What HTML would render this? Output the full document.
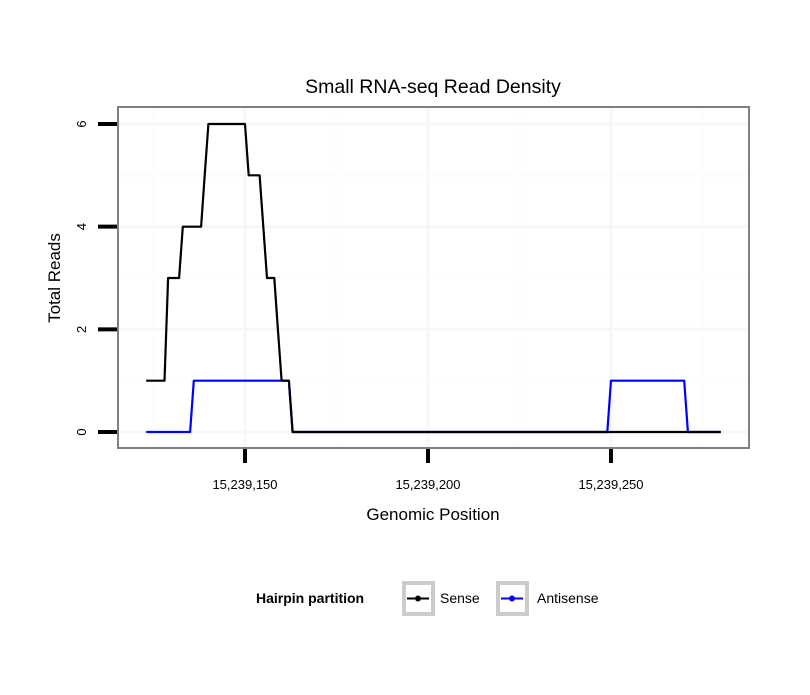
<!DOCTYPE html>
<html><head><meta charset="utf-8"><style>
body{margin:0;background:#fff;font-family:"Liberation Sans",sans-serif}
</style></head><body>
<svg id="chart" width="810" height="690" font-family="Liberation Sans, sans-serif">
<rect width="810" height="690" fill="#fff"/>
<text x="433" y="93" font-size="19.5" text-anchor="middle">Small RNA-seq Read Density</text>
<g id="grid"></g>
<g id="series"></g>
<rect x="118" y="107" width="631" height="341" fill="none" stroke="#808080" stroke-width="2"/>
<g id="axes"></g>
<text x="433" y="520" font-size="17" text-anchor="middle">Genomic Position</text>
<text transform="translate(60,278) rotate(-90)" font-size="17" text-anchor="middle">Total Reads</text>
<g>
<text x="256" y="603" font-size="14" font-weight="bold">Hairpin partition</text>
<g>
<rect x="404" y="583" width="29" height="31" fill="#fff" stroke="#cccccc" stroke-width="4"/>
<line x1="407" y1="598.5" x2="429" y2="598.5" stroke="#000" stroke-width="2"/>
<circle cx="418" cy="598.5" r="3" fill="#000"/>
<text x="440" y="603" font-size="14">Sense</text></g>
<g>
<rect x="498" y="583" width="29" height="31" fill="#fff" stroke="#cccccc" stroke-width="4"/>
<line x1="501" y1="598.5" x2="523" y2="598.5" stroke="#0000ff" stroke-width="2"/>
<circle cx="512" cy="598.5" r="3" fill="#0000ff"/>
<text x="537" y="603" font-size="14">Antisense</text></g>
</g>
</svg>
<script>
const senseX=[15239123,15239128,15239129,15239132,15239133,15239138,15239139,15239140,15239150,15239151,15239154,15239155,15239156,15239158,15239159,15239160,15239162,15239163,15239280];
const senseY=[1,1,3,3,4,4,5,6,6,5,5,4,3,3,2,1,1,0,0];
const antiX=[15239123,15239135,15239136,15239162,15239163,15239249,15239250,15239270,15239271,15239280];
const antiY=[0,0,1,1,0,0,1,1,0,0];
const xTicks=[15239150,15239200,15239250];
const xTickLabels=["15,239,150","15,239,200","15,239,250"];
const xMinor=[15239125,15239175,15239225,15239275];
const yTicks=[0,2,4,6];
const yMinor=[1,3,5];
const NS="http://www.w3.org/2000/svg";
function sx(p){return 245+(p-15239150)*(428-245)/50;}
function sy(v){return 432-v*(432-124)/6;}
function mk(t,a,parent){const e=document.createElementNS(NS,t);for(const k in a)e.setAttribute(k,a[k]);document.getElementById(parent).appendChild(e);return e;}
xMinor.forEach(p=>{const e=mk('line',{x1:sx(p),x2:sx(p),y1:108,y2:447,stroke:'#fcfcfc','stroke-width':2},'grid');

});
yMinor.forEach(v=>{const e=mk('line',{x1:119,x2:748,y1:sy(v),y2:sy(v),stroke:'#fcfcfc','stroke-width':2},'grid');

});
xTicks.forEach((p,i)=>{const e=mk('line',{x1:sx(p),x2:sx(p),y1:108,y2:447,stroke:'#f7f7f7','stroke-width':3},'grid');


const t=mk('line',{x1:sx(p),x2:sx(p),y1:449,y2:463,stroke:'#000','stroke-width':4},'axes');


const l=mk('text',{x:sx(p),y:489,'font-size':13,'text-anchor':'middle'},'axes');l.textContent=xTickLabels[i];

});
yTicks.forEach(v=>{const e=mk('line',{x1:119,x2:748,y1:sy(v),y2:sy(v),stroke:'#f7f7f7','stroke-width':3},'grid');


const t=mk('line',{x1:98,x2:117,y1:sy(v),y2:sy(v),stroke:'#000','stroke-width':4},'axes');


const l=mk('text',{transform:`translate(86,${sy(v)}) rotate(-90)`,'font-size':13,'text-anchor':'middle'},'axes');l.textContent=v;

});
function line(xs,ys,col,name){const d=xs.map((p,i)=>(i?'L':'M')+sx(p).toFixed(1)+','+sy(ys[i]).toFixed(1)).join('');
const e=mk('path',{d:d,fill:'none',stroke:col,'stroke-width':2.2,'stroke-linejoin':'round'},'series');

}
line(antiX,antiY,'#0000ff','antisense-line');
line(senseX,senseY,'#000000','sense-line');
</script>
</body></html>
